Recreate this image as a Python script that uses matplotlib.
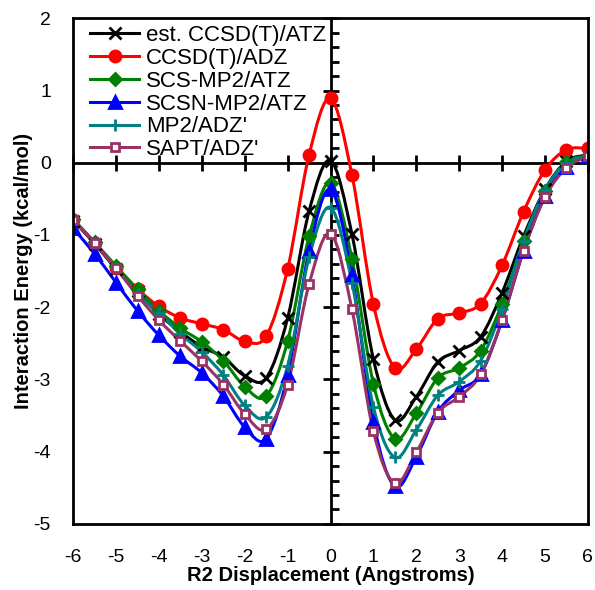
import matplotlib
matplotlib.use("Agg")
from matplotlib import pyplot as plt
from matplotlib.path import Path
from matplotlib.patches import PathPatch
import numpy as np

plt.rcParams["font.family"] = ["Liberation Sans", "DejaVu Sans"]
plt.rcParams["axes.unicode_minus"] = False

x = np.arange(-6, 6.01, 0.5)

est_ccsdt_atz = [-0.80, -1.12, -1.47, -1.78, -2.10, -2.34, -2.55, -2.69, -2.95, -2.98, -2.15, -0.67, 0.03,
                 -0.99, -2.72, -3.56, -3.24, -2.76, -2.60, -2.41, -1.80, -1.02, -0.37, 0.02, 0.11]
ccsdt_adz = [-0.79, -1.11, -1.46, -1.75, -1.99, -2.15, -2.23, -2.31, -2.47, -2.40, -1.47, 0.11, 0.89,
             -0.17, -1.96, -2.84, -2.58, -2.16, -2.08, -1.95, -1.42, -0.68, -0.10, 0.18, 0.20]
scs_mp2_atz = [-0.78, -1.10, -1.43, -1.75, -2.05, -2.29, -2.48, -2.74, -3.10, -3.23, -2.47, -1.02, -0.28,
               -1.33, -3.06, -3.82, -3.47, -2.98, -2.84, -2.60, -1.95, -1.09, -0.39, 0.01, 0.10]
scsn_mp2_atz = [-0.91, -1.26, -1.66, -2.05, -2.39, -2.68, -2.91, -3.23, -3.66, -3.82, -2.94, -1.22, -0.37,
                -1.56, -3.59, -4.48, -4.07, -3.45, -3.15, -2.93, -2.18, -1.22, -0.46, -0.06, 0.09]
mp2_adz = [-0.79, -1.11, -1.46, -1.82, -2.08, -2.37, -2.62, -2.94, -3.36, -3.52, -2.81, -1.31, -0.62,
           -1.66, -3.38, -4.08, -3.70, -3.22, -3.03, -2.74, -2.02, -1.08, -0.38, 0.00, 0.09]
sapt_adz = [-0.79, -1.11, -1.46, -1.84, -2.18, -2.47, -2.75, -3.07, -3.48, -3.69, -3.07, -1.68, -0.98,
            -2.03, -3.72, -4.44, -4.01, -3.46, -3.24, -2.93, -2.18, -1.22, -0.48, -0.07, 0.09]

# name, values, colour, marker, marker face, marker size
serie = [
    ("est. CCSD(T)/ATZ", est_ccsdt_atz, "black", "x", "black", 8),
    ("CCSD(T)/ADZ", ccsdt_adz, "red", "o", "red", 8),
    ("SCS-MP2/ATZ", scs_mp2_atz, "green", "D", "green", 6),
    ("SCSN-MP2/ATZ", scsn_mp2_atz, "blue", "^", "blue", 8),
    ("MP2/ADZ'", mp2_adz, "teal", "+", "teal", 9),
    ("SAPT/ADZ'", sapt_adz, "#993366", "s", "white", 6),
]


def hladka_cesta(xs, ys):
    # excel-like smoothed line: bezier segments through the points
    p = np.column_stack([xs, ys])
    n = len(p)
    verts = [p[0]]
    codes = [Path.MOVETO]
    for i in range(n - 1):
        p0 = p[max(i - 1, 0)]
        p1 = p[i]
        p2 = p[i + 1]
        p3 = p[min(i + 2, n - 1)]
        verts += [p1 + (p2 - p0) / 6, p2 - (p3 - p1) / 6, p2]
        codes += [Path.CURVE4] * 3
    return Path(verts, codes)


fig = plt.figure(figsize=(5.95, 5.9), dpi=100)
rect = [0.123, 0.112, 0.865, 0.857]

# axes through zero with the ticks
axz = fig.add_axes(rect)
axz.set_xlim(-6, 6)
axz.set_ylim(-5, 2)
for s in ["top", "right"]:
    axz.spines[s].set_visible(False)
axz.spines["left"].set_position(("data", 0))
axz.spines["bottom"].set_position(("data", 0))
axz.spines["left"].set_linewidth(2)
axz.spines["bottom"].set_linewidth(2)
axz.set_xticks(np.arange(-6, 7, 1))
axz.set_yticks(np.arange(-5, 3, 1))
axz.set_yticks(np.arange(-5, 2.01, 0.2), minor=True)
axz.tick_params(axis="both", which="major", direction="inout", length=12, width=2,
                labelleft=False, labelbottom=False)
axz.tick_params(axis="y", which="minor", direction="in", length=6, width=2)

# frame, labels, data
ax = fig.add_axes(rect, facecolor="none")
ax.set_xlim(-6, 6)
ax.set_ylim(-5, 2)
for s in ax.spines.values():
    s.set_linewidth(2)
ax.set_xticks(np.arange(-6, 7, 1))
ax.set_yticks(np.arange(-5, 3, 1))
ax.tick_params(axis="both", length=0, labelsize=14)
ax.tick_params(axis="x", pad=18)
ax.tick_params(axis="y", pad=16)

for jmeno, hodnoty, barva, znacka, vypln, vel in serie:
    ax.add_patch(PathPatch(hladka_cesta(x, hodnoty), fill=False, edgecolor=barva, linewidth=2.2))
    ax.plot(x, hodnoty, linestyle="none", marker=znacka, color=barva, markerfacecolor=vypln,
            markeredgecolor=barva, markersize=vel, markeredgewidth=2)
    ax.plot([], [], color=barva, linewidth=2.2, marker=znacka, markerfacecolor=vypln,
            markeredgecolor=barva, markersize=vel, markeredgewidth=2, label=jmeno)

ax.set_xlabel("R2 Displacement (Angstroms)", fontsize=14.5, weight="bold", labelpad=0)
ax.set_ylabel("Interaction Energy (kcal/mol)", fontsize=14.5, weight="bold", labelpad=0)
ax.legend(loc="upper left", bbox_to_anchor=(0.025, 0.995), frameon=False, fontsize=16,
          handlelength=2.2, handletextpad=0.3, labelspacing=0.08, borderaxespad=0.0, borderpad=0.2)

plt.savefig("out.png", dpi=100)
